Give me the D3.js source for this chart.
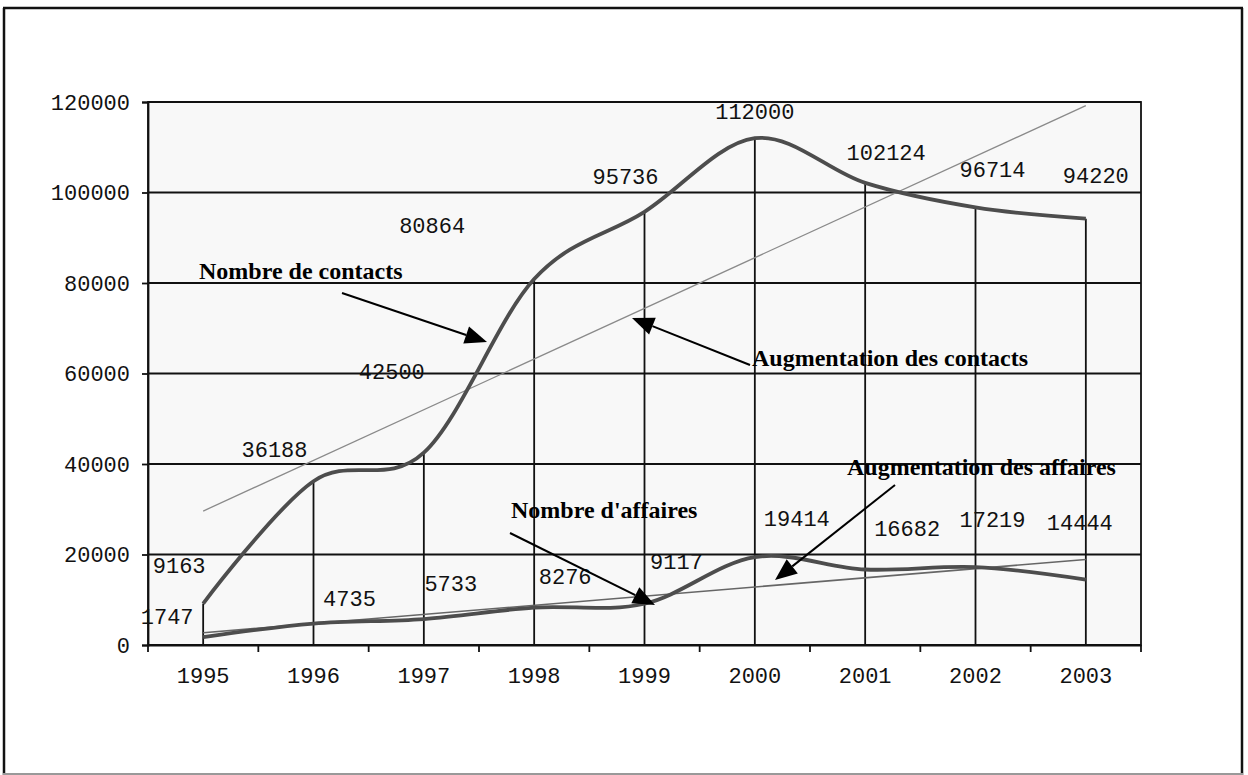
<!DOCTYPE html>
<html>
<head>
<meta charset="utf-8">
<script src="https://cdnjs.cloudflare.com/ajax/libs/d3/7.8.5/d3.min.js"></script>
<style>
body { margin: 0; background: #fff; }
</style>
</head>
<body>
<div id="chart"></div>
<script>
var years = ["1995", "1996", "1997", "1998", "1999", "2000", "2001", "2002", "2003"];
var contacts = [9163, 36188, 42500, 80864, 95736, 112000, 102124, 96714, 94220];
var affaires = [1747, 4735, 5733, 8276, 9117, 19414, 16682, 17219, 14444];
// trend lines, read at 1995 and 2003
var contactsTrend = [29600, 119200];
var affairesTrend = [2700, 18900];
var yTicks = [0, 20000, 40000, 60000, 80000, 100000, 120000];

// where each value label sits relative to its point
var contactsLabelOffsets = [[-24, -37], [-39, -31], [-32, -80], [-102, -53], [-19, -34], [0, -26], [21, -29], [17, -37], [10, -42]];
var affairesLabelOffsets = [[-36, -20], [36, -24], [27, -35], [31, -30], [32, -41], [42, -38], [42, -40], [17, -47], [-6, -56]];

var annotations = [
  {text: "Nombre de contacts", x: 199, y: 279, from: [342, 293], to: [487, 342]},
  {text: "Augmentation des contacts", x: 752, y: 366, from: [750, 365], to: [632, 318]},
  {text: "Nombre d'affaires", x: 511, y: 518, from: [510, 533], to: [655, 605]},
  {text: "Augmentation des affaires", x: 847, y: 475, from: [895, 485], to: [775, 580]}
];

var width = 1248, height = 775;
var plotLeft = 148, plotRight = 1141, plotTop = 102, plotBottom = 645;
var ink = "#111";

var svg = d3.select("#chart").append("svg")
            .attr("width", width)
            .attr("height", height);

// outer frame
svg.append("line").attr("x1", 3).attr("y1", 8).attr("x2", 1243).attr("y2", 8)
   .style("stroke", ink).style("stroke-width", 2.5);
svg.append("line").attr("x1", 4).attr("y1", 8).attr("x2", 4).attr("y2", 775)
   .style("stroke", ink).style("stroke-width", 2.5);
svg.append("line").attr("x1", 1242).attr("y1", 8).attr("x2", 1242).attr("y2", 775)
   .style("stroke", ink).style("stroke-width", 2.5);
svg.append("line").attr("x1", 3).attr("y1", 774).attr("x2", 1243).attr("y2", 774)
   .style("stroke", "#999").style("stroke-width", 2);

var x = d3.scaleBand().domain(years).range([plotLeft, plotRight]);
var y = d3.scaleLinear().domain([0, 120000]).range([plotBottom, plotTop]);
function cx(d) { return x(d) + x.bandwidth() / 2; }

// plot area
svg.append("rect")
   .attr("x", plotLeft).attr("y", plotTop)
   .attr("width", plotRight - plotLeft).attr("height", plotBottom - plotTop)
   .style("fill", "#f8f8f8")
   .style("stroke", ink).style("stroke-width", 1.8);

svg.selectAll(".grid").data(yTicks).enter().append("line")
   .attr("class", "grid")
   .attr("x1", plotLeft).attr("x2", plotRight)
   .attr("y1", function (d) { return y(d); })
   .attr("y2", function (d) { return y(d); })
   .style("stroke", ink).style("stroke-width", 1.8);

// drop lines from the contacts points
svg.selectAll(".drop").data(years).enter().append("line")
   .attr("class", "drop")
   .attr("x1", cx).attr("x2", cx)
   .attr("y1", function (d, i) { return y(contacts[i]); })
   .attr("y2", y(0))
   .style("stroke", ink).style("stroke-width", 1.8);

// trend lines
var first = years[0], last = years[years.length - 1];
svg.append("line")
   .attr("x1", cx(first)).attr("y1", y(contactsTrend[0]))
   .attr("x2", cx(last)).attr("y2", y(contactsTrend[1]))
   .style("stroke", "#8a8a8a").style("stroke-width", 1.3);
svg.append("line")
   .attr("x1", cx(first)).attr("y1", y(affairesTrend[0]))
   .attr("x2", cx(last)).attr("y2", y(affairesTrend[1]))
   .style("stroke", "#666").style("stroke-width", 1.6);

var line = d3.line()
   .x(function (d, i) { return cx(years[i]); })
   .y(function (d) { return y(d); })
   .curve(d3.curveCatmullRom.alpha(0));

[contacts, affaires].forEach(function (series) {
  svg.append("path")
     .datum(series)
     .attr("d", line)
     .style("fill", "none")
     .style("stroke", "#4d4d4d")
     .style("stroke-width", 3.8);
});

// axes
var yAxis = svg.append("g")
   .attr("transform", "translate(" + plotLeft + ",0)")
   .call(d3.axisLeft(y).tickValues(yTicks).tickFormat(d3.format("d")).tickSize(6).tickPadding(12));
yAxis.select(".domain").style("stroke", ink).style("stroke-width", 1.8);
yAxis.selectAll(".tick line").style("stroke", ink).style("stroke-width", 1.8);

var xAxis = svg.append("g")
   .attr("transform", "translate(0," + plotBottom + ")")
   .call(d3.axisBottom(x).tickSize(0));
xAxis.select(".domain").style("stroke", ink).style("stroke-width", 1.8);
xAxis.selectAll(".tick text").attr("y", 38).attr("dy", 0);

var bounds = years.map(function (d) { return x(d); }).concat([plotRight]);
svg.selectAll(".xtick").data(bounds).enter().append("line")
   .attr("class", "xtick")
   .attr("x1", function (d) { return d; }).attr("x2", function (d) { return d; })
   .attr("y1", plotBottom).attr("y2", plotBottom + 7)
   .style("stroke", ink).style("stroke-width", 1.8);

svg.selectAll(".tick text")
   .style("font-family", "'Liberation Mono', 'Courier New', monospace")
   .style("font-size", "22px")
   .style("fill", "#111");

// value labels
function addLabels(series, offsets) {
  svg.append("g").selectAll("text").data(series).enter().append("text")
     .attr("x", function (d, i) { return cx(years[i]) + offsets[i][0]; })
     .attr("y", function (d, i) { return y(d) + offsets[i][1]; })
     .attr("dy", "0.3em")
     .attr("text-anchor", "middle")
     .style("font-family", "'Liberation Mono', 'Courier New', monospace")
     .style("font-size", "22px")
     .style("fill", "#111")
     .text(function (d) { return d; });
}
addLabels(contacts, contactsLabelOffsets);
addLabels(affaires, affairesLabelOffsets);

// annotations with arrows
annotations.forEach(function (a) {
  svg.append("text")
     .attr("x", a.x).attr("y", a.y)
     .style("font-family", "'Liberation Serif', 'Times New Roman', serif")
     .style("font-weight", "bold")
     .style("font-size", "24px")
     .style("fill", "#000")
     .text(a.text);

  var dx = a.to[0] - a.from[0], dy = a.to[1] - a.from[1];
  var len = Math.sqrt(dx * dx + dy * dy);
  var ux = dx / len, uy = dy / len;
  var headLen = 22, headW = 9;
  var bx = a.to[0] - ux * headLen, by = a.to[1] - uy * headLen;

  svg.append("line")
     .attr("x1", a.from[0]).attr("y1", a.from[1])
     .attr("x2", bx).attr("y2", by)
     .style("stroke", "#000").style("stroke-width", 2);

  svg.append("polygon")
     .attr("points", [
        [a.to[0], a.to[1]],
        [bx - uy * headW, by + ux * headW],
        [bx + uy * headW, by - ux * headW]
     ].map(function (p) { return p.join(","); }).join(" "))
     .style("fill", "#000");
});
</script>
</body>
</html>
